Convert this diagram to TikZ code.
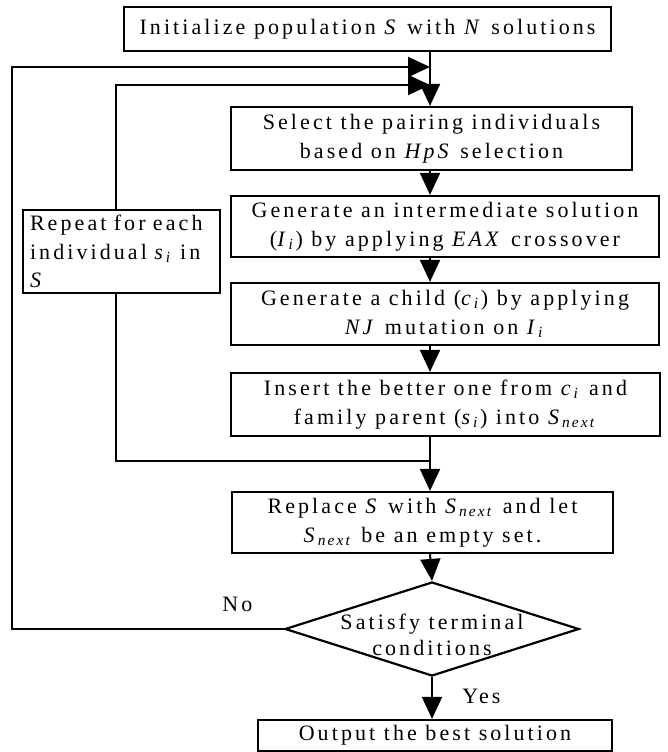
\documentclass[tikz,border=0pt]{standalone}
\usepackage{fontspec}
\setmainfont{Liberation Serif}[LetterSpace=14]
\usetikzlibrary{shapes,
                arrows.meta,
                positioning}
\newcommand{\sym}[1]{\textit{#1}}
\newcommand{\idx}[1]{\textsubscript{\textit{#1}}}
\tikzset{process/.style =
   {rectangle,
    draw,
    line width=2.2pt,
    align=center,
    inner sep=0pt,
    font=\fontsize{22}{28.5}\selectfont}}
\tikzset{decision/.style =
   {diamond,
    draw,
    line width=2.2pt,
    inner sep=0pt,
    minimum width=294pt,
    minimum height=94pt}}
\tikzset{arrow/.style = {draw, line width=2pt, -{Triangle[length=22pt,width=20pt]}}}
\tikzset{line/.style = {draw, line width=2pt}}

\begin{document}
\begin{tikzpicture}[x=1pt, y=-1pt]
    \useasboundingbox (0,0) rectangle (668,752);

    \node [process, minimum width=487pt, minimum height=44pt]
      (init) at (367.5,29) {Initialize population \sym{S} with \sym{N} solutions};

    \node [process, minimum width=401pt, minimum height=63pt]
      (select) at (431.5,138.5) {Select the pairing individuals\\based on \sym{HpS} selection};

    \node [process, minimum width=428pt, minimum height=61pt]
      (gen-eax) at (445,226.5) {Generate an intermediate solution\\(\sym{I}\idx{i}) by applying \sym{EAX} crossover};

    \node [process, minimum width=428pt, minimum height=62pt]
      (gen-nj) at (445,314) {Generate a child (\sym{c}\idx{i}) by applying\\\sym{NJ} mutation on \sym{I}\idx{i}};

    \node [process, minimum width=429pt, minimum height=63pt]
      (insert) at (445.5,404.5) {Insert the better one from \sym{c}\idx{i} and\\family parent (\sym{s}\idx{i}) into \sym{S}\idx{next}};

    \node [process, minimum width=381pt, minimum height=61pt]
      (replace) at (422.5,522.5) {Replace \sym{S} with \sym{S}\idx{next} and let\\\sym{S}\idx{next} be an empty set.};

    \node [decision,
           label={[font=\fontsize{22}{26}\selectfont, align=center, yshift=-6pt]center:{Satisfy terminal\\conditions}}]
      (satisfy) at (432,629) {};

    \node [process, minimum width=354pt, minimum height=31pt]
      (output) at (435,735.5) {Output the best solution};

    \node [process, align=left, text width=183pt, minimum width=197pt, minimum height=83pt]
      (repeat-box) at (121.5,251.5) {Repeat for each\\individual \sym{s}\idx{i} in\\\sym{S}};

    % main spine and joints
    \coordinate (spine) at (430,0);
    \coordinate (outer-in) at (430,67);
    \coordinate (inner-in) at (430,85);
    \coordinate (outer-corner) at (12,67);
    \coordinate (junction) at (430,461);

    \draw [arrow] (init.south -| spine) -- (select.north -| spine);
    \draw [arrow] (select.south -| spine) -- (gen-eax.north -| spine);
    \draw [arrow] (gen-eax.south -| spine) -- (gen-nj.north -| spine);
    \draw [arrow] (gen-nj.south -| spine) -- (insert.north -| spine);
    \draw [line] (insert.south -| spine) -- (junction);
    \draw [arrow] (junction) -- (replace.north -| spine);
    \draw [arrow] (replace.south -| spine) -- (satisfy.north);
    \draw [arrow] (satisfy.south) -- (output.north -| satisfy.south)
      node [pos=0.45, anchor=west, xshift=26pt, font=\fontsize{22}{26}\selectfont] (yes) {Yes};

    % loop for each individual
    \draw [line] (junction) -| ([xshift=-6pt]repeat-box.south);
    \draw [arrow] ([xshift=-6pt]repeat-box.north) |- (inner-in);

    % loop until terminal conditions hold
    \draw [arrow] (satisfy.west) -| (outer-corner) -- (outer-in);
    \node [anchor=south east, xshift=-28pt, yshift=14pt, font=\fontsize{22}{26}\selectfont]
      (no) at (satisfy.west) {No};

\end{tikzpicture}
\end{document}
